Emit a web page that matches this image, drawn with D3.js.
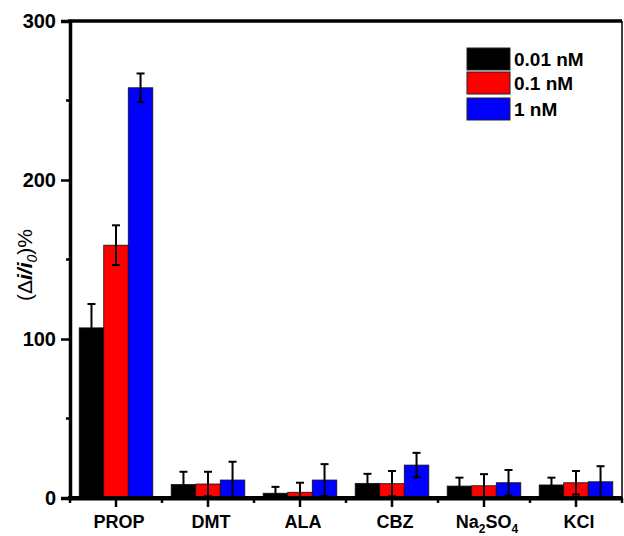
<!DOCTYPE html>
<html><head><meta charset="utf-8">
<script src="https://cdn.jsdelivr.net/npm/d3@7"></script>
<style>
body{margin:0;background:#fff;}
svg{display:block;font-family:"Liberation Sans",Arial,sans-serif;}
</style></head>
<body><svg id="c" width="624" height="536"></svg>
<script>
const categories = ["PROP","DMT","ALA","CBZ","Na2SO4","KCl"];
const series = ["0.01 nM","0.1 nM","1 nM"];
const seriesColors = ["#000000","#ff0000","#0000ff"];
const values001 = [107, 8.5, 3, 9.2, 7.5, 8.2];
const errors001 = [15, 8, 4, 6, 5.3, 4.6];
const values01  = [159, 8.8, 3.6, 9, 7.7, 9.6];
const errors01  = [12.5, 7.7, 6, 8, 7.3, 7.4];
const values1   = [258, 11.3, 11.3, 20.7, 9.6, 10.2];
const errors1   = [9, 11.5, 10, 7.7, 8, 9.8];
const yTicks = [0, 100, 200, 300];
const yMinorTicks = [50, 150, 250];

const valueSets = [values001, values01, values1];
const errorSets = [errors001, errors01, errors1];

const svg = d3.select("#c");
const L = 70, R = 622, T = 21, B = 498;

const x = d3.scaleBand().domain(categories).range([L, R]).paddingInner(0.2).paddingOuter(0.1);
const xs = d3.scaleBand().domain(series).range([0, x.bandwidth()]).padding(0);
const y = d3.scaleLinear().domain([0, 300]).range([B, T]);

// frame: top (thick) and right (thin)
svg.append("line").attr("x1", L-2).attr("x2", R).attr("y1", T).attr("y2", T)
  .attr("stroke", "#000").attr("stroke-width", 3.5);
svg.append("line").attr("x1", R).attr("x2", R).attr("y1", T).attr("y2", B)
  .attr("stroke", "#000").attr("stroke-width", 1.5);

// bars
const data = [];
categories.forEach((c, i) => series.forEach((s, j) => {
  data.push({c, s, j, v: valueSets[j][i], e: errorSets[j][i]});
}));

svg.append("g").selectAll("rect").data(data).join("rect")
  .attr("x", d => x(d.c) + xs(d.s))
  .attr("width", xs.bandwidth())
  .attr("y", d => y(d.v))
  .attr("height", d => y(0) - y(d.v))
  .attr("fill", d => seriesColors[d.j])
  .attr("stroke", "#111").attr("stroke-width", 0.8);

// error bars
const eg = svg.append("g").attr("stroke", "#000").attr("stroke-width", 2);
data.forEach(d => {
  const cx = x(d.c) + xs(d.s) + xs.bandwidth() / 2;
  const lo = Math.max(0, d.v - d.e), hi = d.v + d.e;
  eg.append("line").attr("x1", cx).attr("x2", cx).attr("y1", y(lo)).attr("y2", y(hi));
  eg.append("line").attr("x1", cx - 4).attr("x2", cx + 4).attr("y1", y(hi)).attr("y2", y(hi));
  eg.append("line").attr("x1", cx - 4).attr("x2", cx + 4).attr("y1", y(lo)).attr("y2", y(lo));
});

// y axis
const ya = svg.append("g").attr("transform", `translate(${L},0)`)
  .call(d3.axisLeft(y).tickValues(yTicks).tickSize(9).tickPadding(5));
ya.select(".domain").attr("stroke-width", 3.5);
ya.selectAll(".tick line").attr("stroke-width", 2.5);
ya.selectAll(".tick text").attr("font-size", 20).attr("font-weight", "bold").attr("fill", "#000")
  .attr("font-family", "Liberation Sans, Arial, sans-serif");
svg.append("g").selectAll("line").data(yMinorTicks).join("line")
  .attr("x1", L - 4).attr("x2", L).attr("y1", d => y(d)).attr("y2", d => y(d))
  .attr("stroke", "#000").attr("stroke-width", 2.5);

// x axis
const xa = svg.append("g").attr("transform", `translate(0,${B})`)
  .call(d3.axisBottom(x).tickSize(9).tickSizeOuter(0).tickFormat(""));
xa.select(".domain").attr("stroke-width", 4);
xa.selectAll(".tick line").attr("stroke-width", 2.5);
const boundaries = d3.range(categories.length + 1).map(i => L + i * x.step());
svg.append("g").selectAll("line").data(boundaries).join("line")
  .attr("x1", d => d).attr("x2", d => d).attr("y1", B).attr("y2", B + 5)
  .attr("stroke", "#000").attr("stroke-width", 2.5);
svg.append("line").attr("x1", L - 2).attr("x2", R).attr("y1", B).attr("y2", B)
  .attr("stroke", "#000").attr("stroke-width", 4);

// category labels
const xl = svg.append("g").attr("font-size", 18).attr("font-weight", "bold").attr("text-anchor", "middle");
categories.forEach(c => {
  const t = xl.append("text").attr("x", x(c) + x.bandwidth() / 2 + 3).attr("y", 528);
  if (c === "Na2SO4") {
    t.append("tspan").text("Na");
    t.append("tspan").text("2").attr("font-size", 12).attr("dy", 5);
    t.append("tspan").text("SO").attr("dy", -5);
    t.append("tspan").text("4").attr("font-size", 12).attr("dy", 5);
  } else {
    t.text(c);
  }
});

// y title
const yt = svg.append("text").attr("transform", "translate(32,265) rotate(-90)")
  .attr("text-anchor", "middle").attr("font-size", 21);
yt.append("tspan").text("(\u0394");
yt.append("tspan").text("i").attr("font-style", "italic").attr("font-weight", "bold");
yt.append("tspan").text("/").attr("font-style", "italic").attr("font-weight", "bold");
yt.append("tspan").text("i").attr("font-style", "italic").attr("font-weight", "bold");
yt.append("tspan").text("0").attr("font-style", "italic").attr("font-size", 14).attr("dy", 5);
yt.append("tspan").text(")%").attr("dy", -5);

// legend
const lg = svg.append("g");
const ly = [48, 72, 98];
series.forEach((s, j) => {
  lg.append("rect").attr("x", 467).attr("y", ly[j]).attr("width", 43).attr("height", 22)
    .attr("fill", seriesColors[j]).attr("stroke", "#222").attr("stroke-width", 1);
  lg.append("text").attr("x", 514).attr("y", ly[j] + 18).attr("font-size", 19)
    .attr("font-weight", "bold").text(s);
});
</script></body></html>
